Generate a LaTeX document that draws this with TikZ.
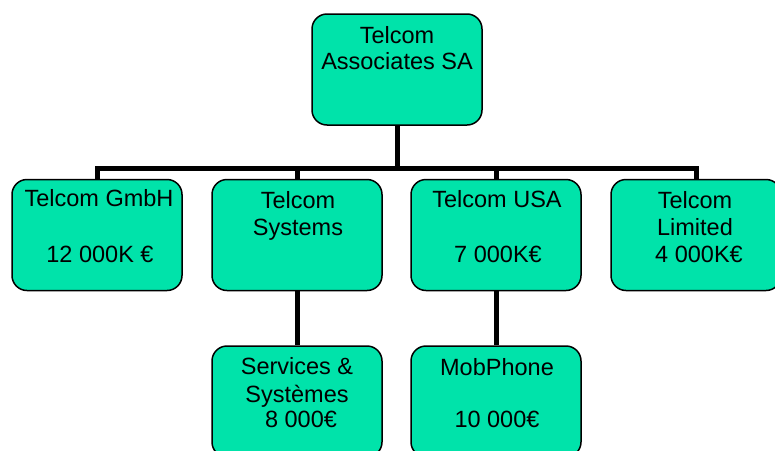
\documentclass[tikz,border=0pt]{standalone}
\usepackage{fontspec}
\setmainfont{Liberation Sans}
\usetikzlibrary{backgrounds}
\definecolor{boxfill}{RGB}{0,227,170}
\begin{document}
\begin{tikzpicture}[x=1pt,y=-1pt,
  orgbox/.style={draw=black, line width=1.5pt, fill=boxfill, rounded corners=15pt,
    minimum width=170pt, minimum height=111pt, inner sep=0pt},
  txt/.style={anchor=base, inner sep=0pt, font=\fontsize{23.5}{27}\selectfont},
  conn/.style={line width=5pt, draw=black}]
\useasboundingbox (0,0) rectangle (775,450);
\begin{scope}
\clip (0,0) rectangle (775,450);
% boxes
\node[orgbox] (top) at (397,69.5) {};
\node[orgbox] (gmbh) at (97,235) {};
\node[orgbox] (sys) at (297,235) {};
\node[orgbox] (usa) at (496,235) {};
\node[orgbox] (lim) at (696,235) {};
\node[orgbox] (serv) at (297,401.5) {};
\node[orgbox] (mob) at (496,401.5) {};
\coordinate (bar) at (397,168);
\end{scope}
% connectors
\begin{scope}[on background layer]
\draw[conn] (top.south) -- (bar);
\draw[conn] (gmbh.north) -- (gmbh.north |- bar) -- (lim.north |- bar) -- (lim.north);
\draw[conn] (sys.north) -- (sys.north |- bar);
\draw[conn] (usa.north) -- (usa.north |- bar);
\draw[conn] (sys.south) -- (serv.north);
\draw[conn] (usa.south) -- (mob.north);
\end{scope}
% texts
\node[txt] (t1) at (397,43) {Telcom};
\node[txt] (t2) at (397,69) {Associates SA};
\node[txt] (g1) at (99,206) {Telcom GmbH};
\node[txt] (g2) at (100,262) {12 000K €};
\node[txt] (s1) at (298,208) {Telcom};
\node[txt] (s2) at (298,235) {Systems};
\node[txt] (u1) at (497,207) {Telcom USA};
\node[txt] (u2) at (498,262) {7 000K€};
\node[txt] (l1) at (695,208) {Telcom};
\node[txt] (l2) at (695,235) {Limited};
\node[txt] (l3) at (699,262) {4 000K€};
\node[txt] (v1) at (297,374) {Services \&};
\node[txt] (v2) at (297,402) {Systèmes};
\node[txt] (v3) at (301,427) {8 000€};
\node[txt] (m1) at (497,375) {MobPhone};
\node[txt] (m2) at (497,427) {10 000€};
\end{tikzpicture}
\end{document}
